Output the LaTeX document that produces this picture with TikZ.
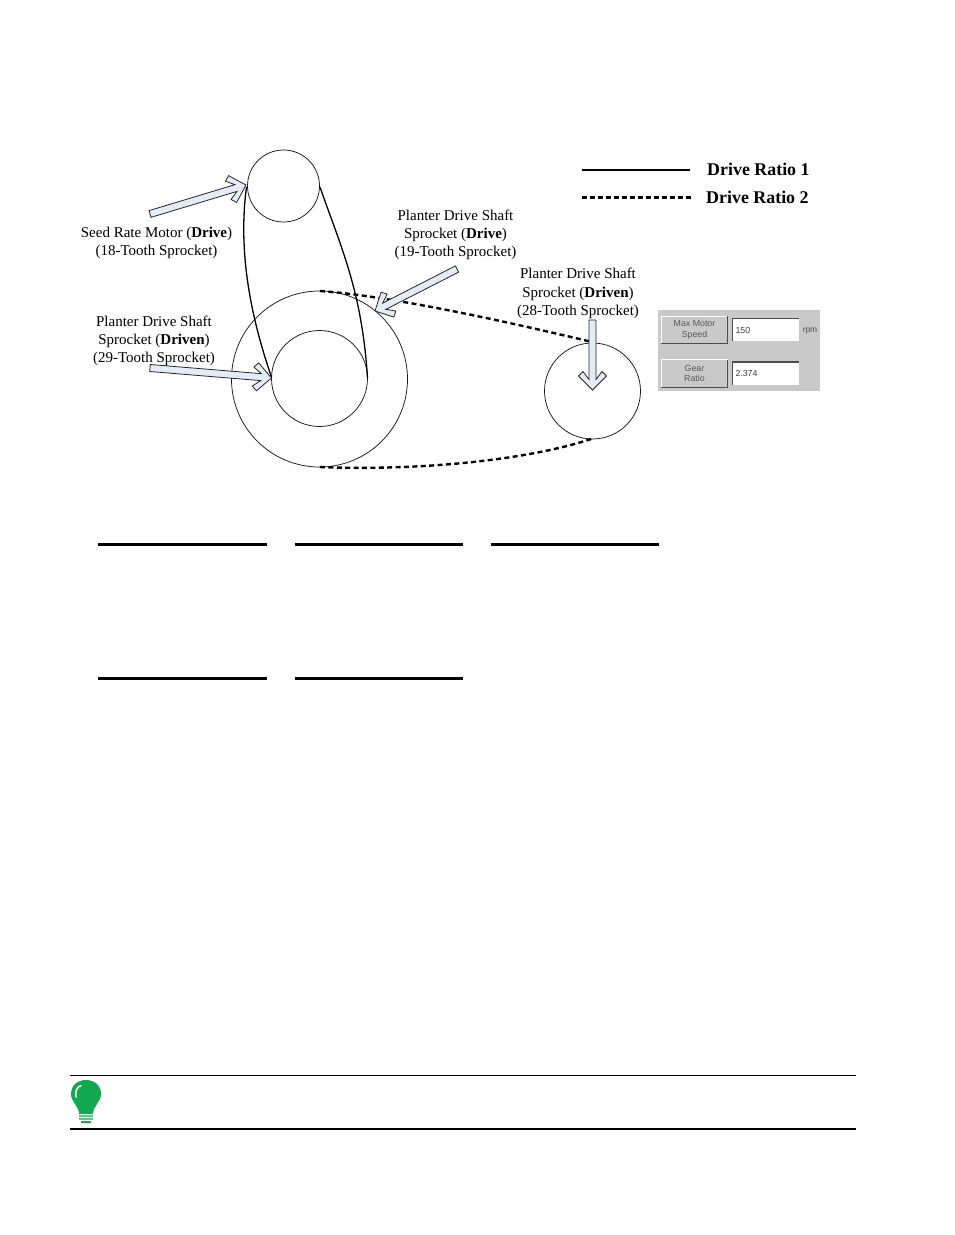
\documentclass[tikz,border=0pt]{standalone}
\usepackage{fontspec}
\setmainfont{Liberation Serif}
\setsansfont{Liberation Sans}
\usetikzlibrary{calc}
\definecolor{arrowfill}{HTML}{E4ECF7}
\definecolor{panelgray}{HTML}{C9C9C9}
\definecolor{bulbgreen}{HTML}{12A850}
\tikzset{
  sprocket/.style={circle,draw=black!90,line width=0.75pt,inner sep=0,outer sep=0,minimum size=#1},
  belta/.style={line width=1.3pt},
  beltb/.style={line width=2.4pt,dash pattern=on 5pt off 3.4pt},
  rulethick/.style={line width=3pt},
  lab/.style={font=\fontsize{15}{18.2}\selectfont,align=center,inner sep=0},
  legend/.style={font=\fontsize{17.9}{20}\selectfont\bfseries,anchor=west,inner sep=0},
  blockarrow/.style={draw=black!85,line width=0.8pt,fill=arrowfill,line join=miter},
  btn/.style={draw=none,fill=panelgray,minimum width=66pt,minimum height=27pt,inner sep=0,
     font=\sffamily\fontsize{8.8}{10.5}\selectfont,text=black!65,align=center},
  fieldbox/.style={draw=none,fill=white,minimum width=66pt,minimum height=22.5pt,inner sep=2.5pt,
     font=\sffamily\fontsize{8.8}{10}\selectfont,text=black!75,text width=61pt,align=left},
}
\newcommand{\blockarr}[4]{%
  \pgfmathsetmacro{\ang}{atan2(#2-#4,#3-#1)}%
  \pgfmathsetmacro{\len}{veclen(#3-#1,#4-#2)}%
  \begin{scope}[shift={(#3,#4)},rotate=\ang]
    \draw[blockarrow] (0,0) -- (-14,14) -- (-18.5,9.5) -- (-10.5,3.5) -- (-\len,3.5) -- (-\len,-3.5) -- (-10.5,-3.5) -- (-18.5,-9.5) -- (-14,-14) -- cycle;
  \end{scope}}
\newcommand{\btnedges}[1]{%
  \draw[white,line width=1pt] (#1.south west) -- (#1.north west) -- (#1.north east);
  \draw[black!70,line width=1.2pt] (#1.north east) -- (#1.south east) -- (#1.south west);}
\newcommand{\fldedges}[1]{%
  \draw[black!70,line width=1.2pt] (#1.south west) -- (#1.north west) -- (#1.north east);}
\begin{document}
\begin{tikzpicture}[x=1pt,y=-1pt]
\useasboundingbox (0,0) rectangle (954,1235);
\fill[white] (0,0) rectangle (954,1235);

% sprockets
\node[sprocket=72pt] (motor) at (283.5,186) {};
\node[sprocket=176pt] (large) at (319.5,379) {};
\node[sprocket=96pt] (inner) at (319.5,378.5) {};
\node[sprocket=96pt] (right) at (592.5,391) {};

% belts
\coordinate (b1) at (246.5,187);
\coordinate (b2) at (271.5,377);
\coordinate (b3) at (320,187);
\coordinate (b4) at (367.5,378);
\coordinate (d1) at (320,291);
\coordinate (d2) at (592,342);
\coordinate (d3) at (320,467);
\coordinate (d4) at (594,438);
\draw[belta] (b1) .. controls (238,250) and (250,315) .. (b2);
\draw[belta] (b3) .. controls (340,245) and (362,290) .. (b4);
\draw[beltb] (d1) .. controls (390,296) and (500,320) .. (d2);
\draw[beltb] (d3) .. controls (420,471) and (530,460) .. (d4);

% block arrows
\blockarr{150}{214}{246}{185}
\blockarr{150}{368}{271.5}{378}
\blockarr{457}{269}{375}{311}
\blockarr{592.5}{320}{592.5}{390}

% labels
\node[lab] (l1) at (156.5,243) {Seed Rate Motor (\textbf{Drive})\\(18-Tooth Sprocket)};
\node[lab] (l2) at (154,341) {Planter Drive Shaft\\Sprocket (\textbf{Driven})\\(29-Tooth Sprocket)};
\node[lab] (l3) at (455.5,235) {Planter Drive Shaft\\Sprocket (\textbf{Drive})\\(19-Tooth Sprocket)};
\node[lab] (l4) at (578,293.5) {Planter Drive Shaft\\Sprocket (\textbf{Driven})\\(28-Tooth Sprocket)};

% legend
\coordinate (la) at (582,170);
\coordinate (lb) at (690,170);
\coordinate (lc) at (582,197.5);
\coordinate (ld) at (692,197.5);
\draw[line width=2pt] (la) -- (lb);
\draw[line width=2.4pt,dash pattern=on 5pt off 3pt] (lc) -- (ld);
\node[legend] (r1) at (707,169.5) {Drive Ratio 1};
\node[legend] (r2) at (706,197.5) {Drive Ratio 2};

% panel
\node[fill=panelgray,minimum width=162pt,minimum height=81pt,inner sep=0] (panel) at (739,350.5) {};
\node[btn] (bt1) at (694.5,330) {\raisebox{-2pt}{Max Motor}\\\raisebox{-2pt}{Speed}};
\node[btn] (bt2) at (694.5,373.5) {\raisebox{-1.5pt}{Gear}\\\raisebox{-1.5pt}{Ratio}};
\btnedges{bt1}
\btnedges{bt2}
\node[fieldbox] (f1) at (766,330) {150};
\node[fieldbox] (f2) at (766,373.5) {2.374};
\fldedges{f1}
\fldedges{f2}
\node[font=\sffamily\fontsize{8.4}{10}\selectfont,text=black!70,inner sep=0] (rpm) at (810,331.5) {rpm};

% blank lines
\foreach \a/\b/\yy in {98/267/544.5,295/463/544.5,491/659/544.5,98/267/678,295/463/678}
  \draw[rulethick] (\a,\yy) -- (\b,\yy);

% note rules
\draw[line width=1pt] (70,1075) -- (856,1075);
\draw[line width=2pt] (70,1129) -- (856,1129);

% bulb
\fill[bulbgreen] (79,1114) .. controls (79,1106) and (71,1102) .. (71,1094)
  .. controls (71,1085) and (78,1080) .. (86,1080)
  .. controls (94,1080) and (101,1085) .. (101,1094)
  .. controls (101,1102) and (93,1106) .. (93,1114) -- cycle;
\draw[white,line width=1.5pt,line cap=round] (76,1097) .. controls (75,1091) and (77,1087) .. (81,1085.5);
\fill[bulbgreen!65] (79,1115) rectangle (93,1116.5);
\fill[bulbgreen!65] (79,1118) rectangle (93,1119.5);
\fill[bulbgreen] (81,1120.5) rectangle (91,1122.5);
\end{tikzpicture}
\end{document}
